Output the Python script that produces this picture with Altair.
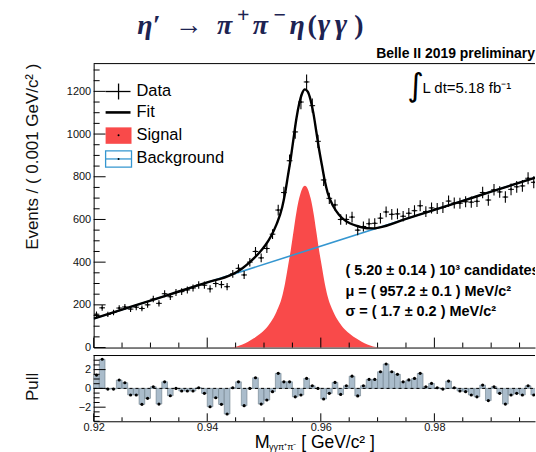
import altair as alt
import pandas as pd

# ---------------------------------------------------------------------------
# eta' -> pi+ pi- eta(gamma gamma) candidates, 1 MeV/c^2 bins from 0.920 GeV/c^2
# ---------------------------------------------------------------------------
bin_low = [round(0.920 + 0.001 * i, 3) for i in range(80)]
events = [156, 186, 155, 164, 185, 190, 180, 189, 183, 200,
          227, 207, 252, 238, 258, 262, 270, 279, 293, 292,
          275, 300, 295, 285, 345, 371, 340, 400, 450, 420,
          464, 531, 644, 726, 875, 1010, 1150, 1244, 1133, 966,
          785, 699, 668, 600, 600, 611, 550, 567, 580, 582,
          606, 635, 624, 626, 615, 629, 641, 664, 637, 654,
          651, 656, 686, 677, 676, 683, 681, 685, 726, 691,
          739, 729, 705, 741, 753, 757, 793, 774, 813, 802]
pulls = [1.42, 3.10, -0.07, -0.07, 0.89, 0.60, -0.70, -0.70, -1.70, -1.06,
         0.18, -1.67, 0.70, -0.78, 0.00, -0.28, -0.28, -0.28, 0.07, -0.53,
         -1.95, -1.00, -1.70, -2.73, 0.07, 0.70, -1.84, 0.00, 1.13, -1.67,
         -1.24, -0.35, 1.60, 0.70, 0.70, -0.90, -0.70, 1.06, 0.28, 0.00,
         -1.13, -0.53, 0.64, -0.64, 0.28, 1.30, -0.80, 0.28, 0.96, 0.96,
         1.77, 2.60, 1.77, 1.50, 0.70, 0.90, 1.06, 1.60, 0.18, 0.53,
         0.07, -0.07, 0.78, 0.07, -0.28, -0.35, -0.70, -0.90, 0.35, -1.30,
         0.18, -0.53, -1.67, -0.70, -0.53, -0.70, 0.28, -0.70, 0.40, -0.30]

# total fit curve (signal + background)
fit_mass = [0.9200, 0.9250, 0.9300, 0.9350, 0.9400,
            0.9442, 0.9452, 0.9462, 0.9472, 0.9482, 0.9492, 0.9502, 0.9512, 0.9522, 0.9532,
            0.9537, 0.9542, 0.9547, 0.9552, 0.9557, 0.9562, 0.9567, 0.9572,
            0.9577, 0.9582, 0.9587, 0.9592, 0.9597, 0.9602, 0.9607, 0.9612,
            0.9622, 0.9632, 0.9642, 0.9652, 0.9662, 0.9672, 0.9682, 0.9692, 0.9702,
            0.9750, 0.9800, 0.9850, 0.9900, 0.9950, 1.0000]
fit_vals = [135.0, 177.5, 220.0, 262.5, 305.0,
            340.7, 354.2, 371.7, 393.2, 417.7, 445.2, 477.7, 520.2, 576.7, 657.2,
            721.5, 802.7, 885.0, 979.2, 1071.5, 1142.7, 1190.0, 1209.2,
            1198.5, 1159.7, 1097.0, 1013.2, 927.5, 853.7, 781.0, 725.2,
            661.7, 622.2, 596.7, 581.2, 570.7, 563.2, 558.7, 558.2, 561.7,
            602.5, 645.0, 687.5, 730.0, 772.5, 815.0]

# signal component
sig_mass = [0.9442, 0.9452, 0.9462, 0.9472, 0.9482, 0.9492, 0.9502, 0.9512, 0.9522, 0.9532,
            0.9537, 0.9542, 0.9547, 0.9552, 0.9557, 0.9562, 0.9567, 0.9572,
            0.9577, 0.9582, 0.9587, 0.9592, 0.9597, 0.9602, 0.9607, 0.9612,
            0.9622, 0.9632, 0.9642, 0.9652, 0.9662, 0.9672, 0.9682, 0.9692, 0.9702]
sig_vals = [0, 5, 14, 27, 43, 62, 86, 120, 168, 240,
            300, 377, 455, 545, 633, 700, 743, 758,
            743, 700, 633, 545, 455, 377, 300, 240,
            168, 120, 86, 62, 43, 27, 14, 5, 0]

# linear background component
bkg_mass = [0.920, 1.000]
bkg_vals = [135.0, 815.0]

# axis tick positions
y_major = [0, 200, 400, 600, 800, 1000, 1200]
y_minor = [50 * k for k in range(27) if (50 * k) % 200]
x_major = [0.92, 0.94, 0.96, 0.98]
x_minor = [0.925, 0.93, 0.935, 0.945, 0.95, 0.955, 0.965, 0.97, 0.975, 0.985, 0.99, 0.995]
p_major = [-2, 0, 2]
p_minor = [-3.5, -3.0, -2.5, -1.5, -1.0, -0.5, 0.5, 1.0, 1.5, 2.5, 3.0, 3.5]

# ---------------------------------------------------------------------------
W, H_MAIN, H_PULL = 443, 285, 66
FONT = "Liberation Sans"
SERIF = "Liberation Serif"
RED = "#f94a4a"
BLUE = "#3596d0"
PULL_FILL = "#aabccb"
PULL_EDGE = "#6c7d8a"
NAVY = "#1d2352"

x_scale = alt.Scale(domain=[0.92, 0.99772], nice=False, zero=False)
y_main = alt.Scale(domain=[0, 1330], nice=False, zero=False)
y_pull = alt.Scale(domain=[-3.5, 3.5], nice=False, zero=False)

ax_x_main = alt.Axis(labels=False, ticks=False, grid=False, title=None,
                     domainColor="black", domainWidth=1)
ax_y_main = alt.Axis(values=y_major, format="d", ticks=False, grid=False, labelFont=FONT,
                     labelFontSize=11, labelColor="#111", labelPadding=3,
                     labelFlush=False, labelOverlap=False,
                     domainColor="black", domainWidth=1,
                     title="Events / ( 0.001 GeV/c² )", titleFont=FONT,
                     titleFontSize=17, titleFontWeight="normal", titleColor="#111",
                     titleAngle=270, titleX=-61, titleY=93,
                     titleAlign="center", titleBaseline="middle")
ax_x_pull = alt.Axis(values=x_major, format=".2f", ticks=False, grid=False,
                     labelFont=FONT, labelFontSize=11, labelColor="#111",
                     labelPadding=0, labelFlush=False, labelOverlap=False,
                     domainColor="black", domainWidth=1, title=None)
ax_y_pull = alt.Axis(values=p_major, format="d", ticks=False, grid=False, labelFont=FONT,
                     labelFontSize=11, labelColor="#111", labelPadding=3,
                     labelFlush=False, labelOverlap=False,
                     domainColor="black", domainWidth=1,
                     title="Pull", titleFont=FONT, titleFontSize=17,
                     titleFontWeight="normal", titleColor="#111",
                     titleAngle=270, titleX=-61, titleY=31,
                     titleAlign="center", titleBaseline="middle")


def mx(f):
    return alt.X(f, type="quantitative", scale=x_scale, axis=ax_x_main)


def my(f):
    return alt.Y(f, type="quantitative", scale=y_main, axis=ax_y_main)


def px(f):
    return alt.X(f, type="quantitative", scale=x_scale, axis=ax_x_pull)


def py(f):
    return alt.Y(f, type="quantitative", scale=y_pull, axis=ax_y_pull)


one = pd.DataFrame({"k": [0]})


def text(s, x, y, size, weight="normal", align="left", font=FONT, style="normal",
         color="black", baseline="middle", clip=False):
    return alt.Chart(one).mark_text(
        text=s, align=align, baseline=baseline, font=font, fontSize=size,
        fontWeight=weight, fontStyle=style, color=color, clip=clip
    ).encode(x=alt.value(x), y=alt.value(y))


def hline(x1, x2, y, color="black", width=1.0):
    return alt.Chart(one).mark_rule(color=color, strokeWidth=width).encode(
        x=alt.value(x1), x2=alt.value(x2), y=alt.value(y))


def vline(x, y1, y2, color="black", width=1.0):
    return alt.Chart(one).mark_rule(color=color, strokeWidth=width).encode(
        x=alt.value(x), y=alt.value(y1), y2=alt.value(y2))


def box(x1, x2, y1, y2, fill, stroke=None, width=0):
    kw = dict(fill=fill, strokeWidth=width)
    if stroke:
        kw["stroke"] = stroke
    return alt.Chart(one).mark_rect(**kw).encode(
        x=alt.value(x1), x2=alt.value(x2), y=alt.value(y1), y2=alt.value(y2))


def dot(x, y, size=5):
    return alt.Chart(one).mark_circle(color="black", size=size, opacity=1).encode(
        x=alt.value(x), y=alt.value(y))


bins = pd.DataFrame({"lo": bin_low, "n": events, "pull": pulls})
base = alt.Chart(bins).transform_calculate(
    c="datum.lo + 0.0005",
    hi="datum.lo + 0.001",
    n_lo="datum.n - sqrt(datum.n)",
    n_hi="datum.n + sqrt(datum.n)",
)

# ---------------- upper panel: mass spectrum and fit ----------------
signal = alt.Chart(pd.DataFrame({"m": sig_mass, "s": sig_vals})).mark_area(
    color=RED, interpolate="monotone", clip=True, opacity=1
).encode(x=mx("m"), y=my("s"))
background = alt.Chart(pd.DataFrame({"m": bkg_mass, "b": bkg_vals})).mark_line(
    color=BLUE, strokeWidth=1.6, clip=True
).encode(x=mx("m"), y=my("b"))
fit = alt.Chart(pd.DataFrame({"m": fit_mass, "f": fit_vals})).mark_line(
    color="black", strokeWidth=2.4, interpolate="monotone", clip=True
).encode(x=mx("m"), y=my("f"))
err_v = base.mark_rule(color="black", strokeWidth=1.1, clip=True).encode(
    x=mx("c"), y=my("n_lo"), y2="n_hi")
err_h = base.mark_rule(color="black", strokeWidth=1.0, clip=True).encode(
    x=mx("lo"), x2="hi", y=my("n"))
pts = base.mark_circle(color="black", size=5, opacity=1, clip=True).encode(
    x=mx("c"), y=my("n"))

ty_major = alt.Chart(pd.DataFrame({"v": y_major})).mark_rule(color="black").encode(
    y=my("v"), x=alt.value(0), x2=alt.value(12))
ty_minor = alt.Chart(pd.DataFrame({"v": y_minor})).mark_rule(color="black").encode(
    y=my("v"), x=alt.value(0), x2=alt.value(6))
tx_major = alt.Chart(pd.DataFrame({"v": x_major})).mark_rule(color="black").encode(
    x=mx("v"), y=alt.value(H_MAIN), y2=alt.value(H_MAIN - 10))
tx_minor = alt.Chart(pd.DataFrame({"v": x_minor})).mark_rule(color="black").encode(
    x=mx("v"), y=alt.value(H_MAIN), y2=alt.value(H_MAIN - 5))

legend = [
    hline(12, 37, 28, width=1.3), vline(25, 20, 36, width=1.3),
    text("Data", 43, 27.5, 16.5),
    hline(12, 37, 49, width=2.6),
    text("Fit", 43, 49, 16.5),
    box(12, 38, 64, 80.5, RED), dot(25, 72, 4),
    text("Signal", 43, 72, 16.5),
    box(12, 38, 87.5, 104, "white", BLUE, 1.3), hline(12, 38, 95.7, BLUE, 1.3), dot(25, 95.7, 4),
    text("Background", 43, 95, 16.5),
]

# decay-channel heading, set piece by piece like a typeset formula
TB = -29.4   # heading baseline
SUP = -41.5  # superscript baseline


def head(s, x, size=28, italic=True, bold=True, align="left", y=TB):
    return text(s, x, y, size, weight="bold" if bold else "normal",
                style="italic" if italic else "normal", align=align,
                font=SERIF, color=NAVY, baseline="alphabetic")


heading = [
    head("η′", 43.7),
    head("→", 81.7, italic=False, bold=False),
    head("π", 123.7),
    head("+", 150.2, size=22, italic=False, align="center", y=SUP),
    head("π", 159.7),
    head("−", 186.7, size=22, italic=False, align="center", y=SUP),
    head("η", 196.7),
    head("(", 214.7, italic=False),
    head("γ", 225.0, size=30),
    head("γ", 242.0, size=30),
    head(")", 261.5, italic=False),
]

labels = [
    text("Belle II 2019 preliminary", W, -9.5, 14, weight="bold", align="right"),
    text("∫", 323.2, 22.3, 32, align="center", font="DejaVu Sans"),
    text("L dt=5.18  fb⁻¹", 330, 25, 15),
    text("( 5.20 ± 0.14 ) 10³ candidates", 252.7, 208, 14.5, weight="bold", clip=True),
    text("μ = ( 957.2 ± 0.1 ) MeV/c²", 252.7, 229, 14.5, weight="bold", clip=True),
    text("σ = ( 1.7 ± 0.2 ) MeV/c²", 252.7, 249, 14.5, weight="bold", clip=True),
]

main = alt.layer(
    signal, background, fit, err_v, err_h, pts,
    ty_major, ty_minor, tx_major, tx_minor,
    hline(0, W, 0),
    *legend, *heading, *labels,
).properties(width=W, height=H_MAIN)

# ---------------- lower panel: pulls ----------------
bars = base.mark_rect(fill=PULL_FILL, stroke=PULL_EDGE, strokeWidth=0.6, clip=True).encode(
    x=px("lo"), x2="hi", y=py("pull"), y2=alt.datum(0))
zero = alt.Chart(pd.DataFrame({"z": [0.0]})).mark_rule(
    color="black", strokeDash=[3, 3], strokeWidth=1).encode(
    y=py("z"), x=alt.value(0), x2=alt.value(W))
pdots = base.mark_circle(color="black", size=10, opacity=1, clip=True).encode(
    x=px("c"), y=py("pull"))
tp_major = alt.Chart(pd.DataFrame({"v": p_major})).mark_rule(color="black").encode(
    y=py("v"), x=alt.value(0), x2=alt.value(12))
tp_minor = alt.Chart(pd.DataFrame({"v": p_minor})).mark_rule(color="black").encode(
    y=py("v"), x=alt.value(0), x2=alt.value(6))
tpx_major = alt.Chart(pd.DataFrame({"v": x_major})).mark_rule(color="black").encode(
    x=px("v"), y=alt.value(H_PULL), y2=alt.value(H_PULL - 8))
tpx_minor = alt.Chart(pd.DataFrame({"v": x_minor})).mark_rule(color="black").encode(
    x=px("v"), y=alt.value(H_PULL), y2=alt.value(H_PULL - 4))

xtitle = [
    text("M", 161.7, 92.5, 18, baseline="alphabetic"),
    text("γγπ⁺π⁻", 176, 95, 9, baseline="alphabetic"),
    text("[ GeV/c² ]", 208.4, 92.5, 17.5, baseline="alphabetic"),
]

pull = alt.layer(
    bars, zero, pdots, tp_major, tp_minor, tpx_major, tpx_minor,
    hline(0, W, 0), *xtitle,
).properties(width=W, height=H_PULL)

chart = alt.vconcat(main, pull, spacing=2).configure_view(stroke=None).properties(
    padding={"left": 24, "top": 3, "right": 0, "bottom": 0},
    background="white",
)

chart.save("out.html", embed_options={"renderer": "svg", "actions": False})
